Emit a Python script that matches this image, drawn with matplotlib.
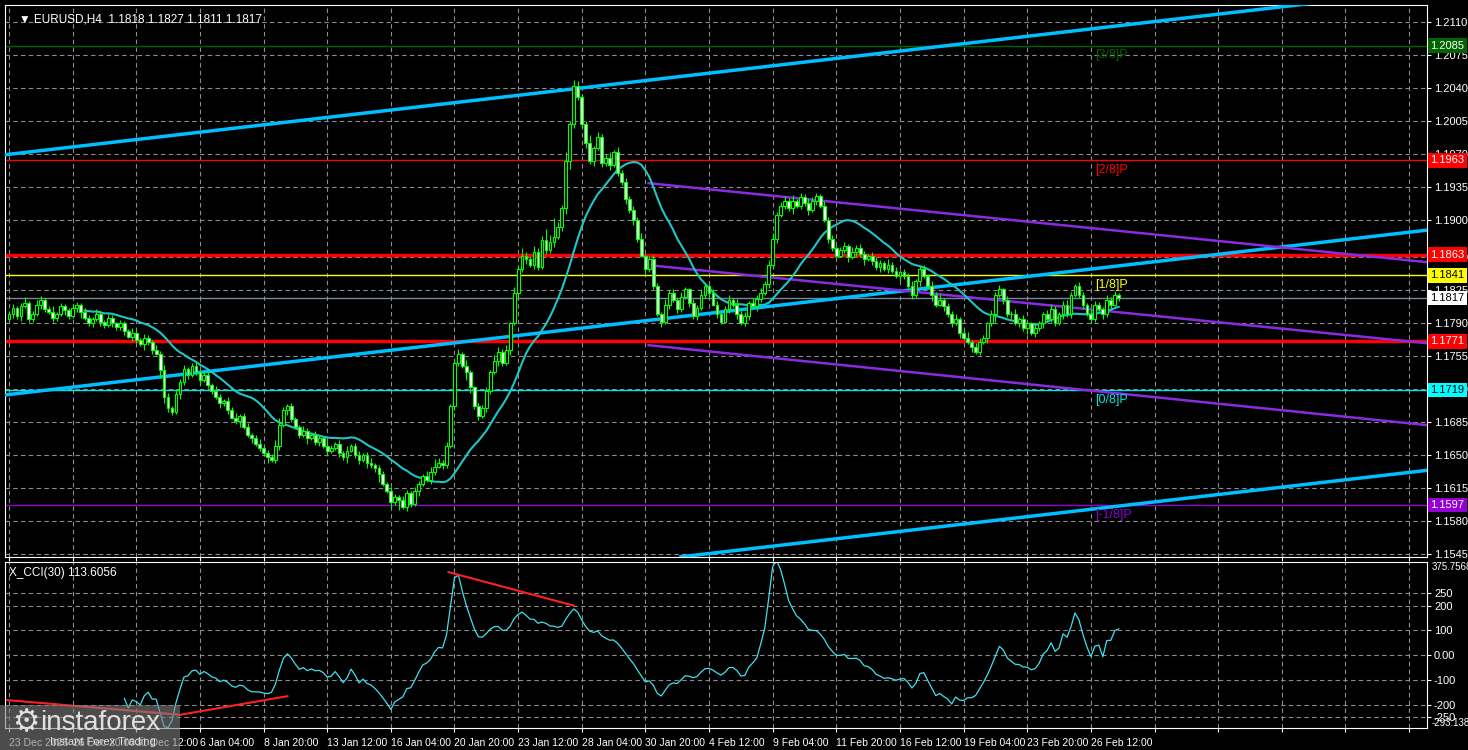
import numpy as np
import matplotlib
matplotlib.use("Agg")
import matplotlib.pyplot as plt
from matplotlib.transforms import blended_transform_factory as btf
from matplotlib.patches import Rectangle

plt.rcParams['font.family'] = ['Liberation Sans', 'DejaVu Sans']

# ---------------- data ----------------
closes = [
 1.1800,1.1806,1.1798,1.1808,1.1812,1.1795,1.1800,1.1810,1.1815,1.1805,
 1.1802,1.1796,1.1800,1.1808,1.1804,1.1798,1.1806,1.1810,1.1802,1.1796,
 1.1790,1.1795,1.1800,1.1792,1.1788,1.1796,1.1790,1.1786,
 1.1790,1.1782,1.1776,1.1780,1.1772,1.1768,1.1775,1.1770,1.1762,1.1758,
 1.1740,1.1712,1.1700,1.1696,1.1715,1.1728,1.1742,1.1735,
 1.1745,1.1738,1.1730,1.1735,1.1725,
 1.1718,1.1712,1.1705,1.1708,1.1698,1.1690,1.1686,1.1692,1.1680,1.1672,1.1668,1.1662,1.1658,1.1652,1.1648,
 1.1645,1.1660,1.1682,1.1698,1.1702,1.1688,1.1680,1.1672,1.1676,1.1668,
 1.1672,1.1664,1.1668,1.1660,1.1655,1.1658,1.1662,1.1652,1.1648,1.1655,1.1660,1.1650,1.1645,1.1650,1.1642,1.1640,1.1636,
 1.1630,1.1620,1.1612,1.1600,1.1606,1.1602,1.1595,1.1610,1.1598,
 1.1612,1.1620,1.1628,1.1624,1.1632,1.1638,1.1642,1.1640,
 1.1660,1.1702,1.1748,1.1758,1.1745,
 1.1738,1.1722,1.1702,1.1692,1.1700,1.1718,1.1738,1.1750,1.1760,1.1748,
 1.1762,1.1790,1.1822,1.1848,1.1862,
 1.1858,1.1852,1.1866,1.1850,1.1878,1.1868,1.1876,1.1882,1.1892,
 1.1912,1.1962,1.2002,1.2042,1.2030,
 1.2002,1.1982,1.1962,1.1976,1.1988,1.1960,1.1966,1.1958,1.1972,1.1950,1.1940,
 1.1922,1.1910,1.1900,1.1880,1.1862,1.1848,1.1858,
 1.1830,1.1800,1.1792,1.1810,1.1822,1.1815,1.1805,1.1818,1.1826,1.1812,
 1.1798,1.1806,1.1820,1.1830,1.1822,1.1810,1.1800,1.1792,1.1805,1.1815,
 1.1810,1.1800,1.1790,1.1798,1.1812,1.1808,1.1816,1.1822,
 1.1832,1.1852,1.1880,1.1905,1.1915,1.1920,
 1.1912,1.1920,1.1915,1.1924,1.1918,1.1910,1.1920,1.1925,1.1915,1.1900,1.1880,
 1.1870,1.1862,1.1868,1.1872,1.1860,1.1866,1.1870,1.1864,1.1858,1.1862,
 1.1856,1.1850,1.1854,1.1848,1.1852,1.1846,1.1840,1.1845,
 1.1840,1.1830,1.1820,1.1835,1.1848,1.1840,1.1830,1.1820,1.1810,1.1815,1.1808,
 1.1800,1.1790,1.1795,1.1780,1.1775,1.1770,1.1765,1.1760,1.1770,
 1.1775,1.1790,1.1800,1.1820,1.1826,1.1815,1.1800,
 1.1800,1.1790,1.1795,1.1785,1.1790,1.1780,1.1785,1.1790,1.1800,1.1795,1.1805,1.1790,1.1800,
 1.1810,1.1800,1.1820,1.1830,1.1820,1.1810,1.1800,
 1.1795,1.1810,1.1805,1.1800,1.1815,1.1810,1.1820,1.1817,
]
first_open = 1.1795
wick_up = [3,5,2,4,6,2,3,5,4,2,3,6,2,4,3,2,5,3,2,4,3,2,5,3,2,4,3,2,
           4,3,2,5,3,2,4,3,2,5,3,6,4,2,5,3,4,2,3,5,2,4,3,2,6,3,2,4,3,5,2,3,
           4,2,3,5,2,4,3,6,8,3,2,4,3,2,5,3,2,4,3,2,6,3,2,4,3,5,2,3,4,2,
           3,5,2,4,3,2,4,3,2,5,3,2,4,3,2,5,6,8,5,3,4,2,3,5,2,6,3,2,4,3,
           4,3,6,5,3,5,2,7,3,8,4,3,6,4,5,12,8,20,6,4,10,3,6,5,4,3,8,2,5,3,
           4,6,2,5,3,4,3,5,3,6,2,4,5,3,2,6,3,4,2,5,3,2,4,3,6,2,3,5,4,2,
           3,5,2,6,3,4,2,5,4,6,3,5,6,3,4,5,3,6,2,4,3,5,4,3,2,5,3,4,2,3,
           4,2,5,3,4,3,2,4,5,3,2,6,3,4,2,3,4,5,2,3,4,2,5,3,6,2,4,3,5,2,
           3,6,2,4,5,3,2,4,3,5,2,4,3,5,2,4,3,2,5,3,2,4,6,3,2,4,5,3,2,4,
           3,2,5,4,3,2,5,3,4,2,3,6,4]
wick_dn = [2,4,3,5,2,3,4,2,5,3,2,4,3,2,5,3,2,4,6,2,3,4,2,5,3,2,4,3,
           3,4,2,5,3,2,6,3,4,2,8,6,4,3,2,5,3,4,2,3,5,2,4,3,2,5,3,4,2,3,6,2,
           3,5,2,4,3,6,2,3,4,2,5,3,2,4,3,6,2,3,4,2,5,3,2,4,3,6,2,3,4,2,
           5,3,4,8,3,2,6,3,10,2,4,3,2,5,3,2,4,3,2,5,3,2,4,3,2,8,6,3,5,2,
           4,3,2,5,3,2,6,2,4,3,5,2,4,3,2,4,3,5,2,4,6,8,5,3,4,6,3,5,2,4,
           3,5,2,4,3,5,3,6,4,2,5,3,4,2,6,3,5,2,4,3,2,5,3,4,2,3,5,2,4,3,
           2,4,3,5,2,3,4,2,5,3,2,4,3,5,2,4,3,6,2,4,3,5,2,4,3,2,5,3,4,2,
           3,5,2,4,3,6,2,4,3,5,2,4,3,2,5,3,2,4,3,5,2,4,6,3,2,5,3,4,2,6,
           3,2,5,3,4,2,6,3,8,2,4,3,5,2,4,3,6,2,4,3,5,2,4,3,2,5,3,4,2,3,
           5,2,4,3,2,5,3,4,2,3,5,2,3]

time_labels = ["23 Dec 2025","26 Dec 20:00","31 Dec 12:00","6 Jan 04:00","8 Jan 20:00",
               "13 Jan 12:00","16 Jan 04:00","20 Jan 20:00","23 Jan 12:00","28 Jan 04:00",
               "30 Jan 20:00","4 Feb 12:00","9 Feb 04:00","11 Feb 20:00","16 Feb 12:00",
               "19 Feb 04:00","23 Feb 20:00","26 Feb 12:00"]
price_ticks = [1.2110,1.2075,1.2040,1.2005,1.1970,1.1935,1.1900,1.1860,1.1825,1.1790,
               1.1755,1.1720,1.1685,1.1650,1.1615,1.1580,1.1545]
cci_ticks = [250,200,100,0,-100,-200,-250]

levels = [(1.2085,"#006400",1.0,"#006400","white"),
          (1.1963,"#ff0000",1.0,"#ff0000","white"),
          (1.1863,"#ff0000",2.5,"#ff0000","white"),
          (1.1841,"#ffff00",1.0,"#ffff00","black"),
          (1.1817,"#778899",1.0,"white","black"),
          (1.1771,"#ff0000",2.5,"#ff0000","white"),
          (1.1719,"#00e5e5",1.0,"#00ffff","black"),
          (1.1597,"#9400d3",1.0,"#9400d3","white")]
murrey = [("[3/8]P",1.2085,"#006400"),("[2/8]P",1.1963,"#ff0000"),("[1/8]P",1.1841,"#ffff00"),
          ("[0/8]P",1.1719,"#00e5e5"),("[-1/8]P",1.1597,"#9400d3")]
trend_lines = [(-1,1.1969,328,1.2130,"#00bfff",2.5),
               (-1,1.1714,356.5,1.1889,"#00bfff",2.5),
               (168.5,1.1542,356.5,1.1634,"#00bfff",2.5),
               (160.5,1.1939,356.5,1.1855,"#8a2be2",1.8),
               (160.5,1.1852,356.5,1.1769,"#8a2be2",1.8),
               (160.5,1.1767,356.5,1.1682,"#8a2be2",1.8)]
cci_red = [([-1,43,70],[-180,-240,-165]),([110.5,142],[335,200])]

# ---------------- figure ----------------
W,H = 1468,750
fig = plt.figure(figsize=(W/100,H/100), dpi=100, facecolor="black")
ax = fig.add_axes([5/W, 1-557/H, (1427-5)/W, (557-5)/H], facecolor="black")
ax2 = fig.add_axes([5/W, 1-728/H, (1427-5)/W, (728-562)/H], facecolor="black", sharex=ax)

c = np.array(closes); n = len(c)
o = np.concatenate([[first_open], c[:-1]])
hi = np.maximum(o,c) + np.array(wick_up[:n])/10000
lo = np.minimum(o,c) - np.array(wick_dn[:n])/10000
x = np.arange(n)

for a in (ax, ax2):
    for s in a.spines.values(): s.set_color("white")
    a.tick_params(colors="white", labelsize=8, length=3, pad=2)
    a.yaxis.tick_right()
    a.grid(True, color="#8c8c8c", linestyle=(0,(4,3)), linewidth=0.8)

xt = np.arange(0, 357, 16)
ax.set_xticks(xt)
ax2.set_xticks(xt)
ax2.set_xticklabels([time_labels[i] if i < len(time_labels) else "" for i in range(len(xt))],
                    ha="left", fontsize=7.5)
plt.setp(ax.get_xticklabels(), visible=False)
ax.set_xlim(-1, 356.5)
ax.set_ylim(1.1542, 1.2128)
ax.set_yticks(price_ticks)
ax.set_yticklabels([f"{v:.4f}" for v in price_ticks])

for lv,col,lw,bc,tc in levels:
    ax.axhline(lv, color=col, lw=lw, zorder=2)
    ax.text(1.0025, lv, f"{lv:.4f}", transform=btf(ax.transAxes, ax.transData), color=tc,
            fontsize=8, va="center", ha="left", zorder=6,
            bbox=dict(boxstyle="square,pad=0.2", fc=bc, ec="none"), clip_on=False)
for txt,lv,col in murrey:
    ax.text(273, lv-0.0010, txt, color=col, fontsize=9, va="center", ha="left", zorder=5)
for b0,p0,b1,p1,col,lw in trend_lines:
    ax.plot([b0,b1],[p0,p1], color=col, lw=lw, zorder=3, solid_capstyle="butt")

per = 20
ma = np.convolve(c, np.ones(per)/per, mode="valid")
ax.plot(x[per-1:], ma, color="#20c5c5", lw=1.5, zorder=4)

bull = c >= o
ax.vlines(x, lo, hi, color="#00ff00", lw=0.8, zorder=4)
ax.bar(x[bull], (c-o)[bull], bottom=o[bull], width=0.7, color="black", edgecolor="#00ff00", lw=0.8, zorder=5)
ax.bar(x[~bull], (o-c)[~bull], bottom=c[~bull], width=0.7, color="white", edgecolor="#00ff00", lw=0.8, zorder=5)

ax.text(0.01, 0.985, "▼ EURUSD,H4  1.1818 1.1827 1.1811 1.1817", transform=ax.transAxes,
        color="white", fontsize=8.5, va="top")

tp = (hi+lo+c)/3
cp = 30
cci = np.full(n, np.nan)
for i in range(cp-1, n):
    w = tp[i-cp+1:i+1]; m = w.mean(); md = np.abs(w-m).mean()
    cci[i] = (tp[i]-m)/(0.015*md) if md > 0 else 0
ax2.plot(x, cci, color="#40e0f0", lw=0.9)
for xs,ys in cci_red:
    ax2.plot(xs, ys, color="#ff2020", lw=1.5)
ax2.set_ylim(-293.138, 375.7568)
ax2.set_yticks(cci_ticks)
ax2.set_yticklabels(["250","200","100","0.00","-100","-200","-250"])
ax2.text(1.003, 1.0, "375.7568", transform=ax2.transAxes, color="white", fontsize=7, va="top")
ax2.text(1.003, 0.0, "-293.138", transform=ax2.transAxes, color="white", fontsize=7, va="bottom")
ax2.text(0.003, 0.97, "X_CCI(30) 113.6056", transform=ax2.transAxes, color="white", fontsize=8.5, va="top")
ax2.tick_params(axis="x", pad=4)

fig.patches.append(Rectangle((0,0), 180/W, 45/H, transform=fig.transFigure,
                             facecolor="#808080", alpha=0.6, zorder=10))
fig.text(40/W, 27/H, "instaforex", color="#e0e0e0", fontsize=20, va="center", zorder=11)
fig.text(50/W, 8/H, "Instant Forex Trading", color="#e0e0e0", fontsize=8, va="center", zorder=11)
fig.text(12/W, 27/H, "⚙", color="#e0e0e0", fontsize=22, va="center", zorder=11, family="DejaVu Sans")

fig.savefig("out.png", dpi=100, facecolor="black")
